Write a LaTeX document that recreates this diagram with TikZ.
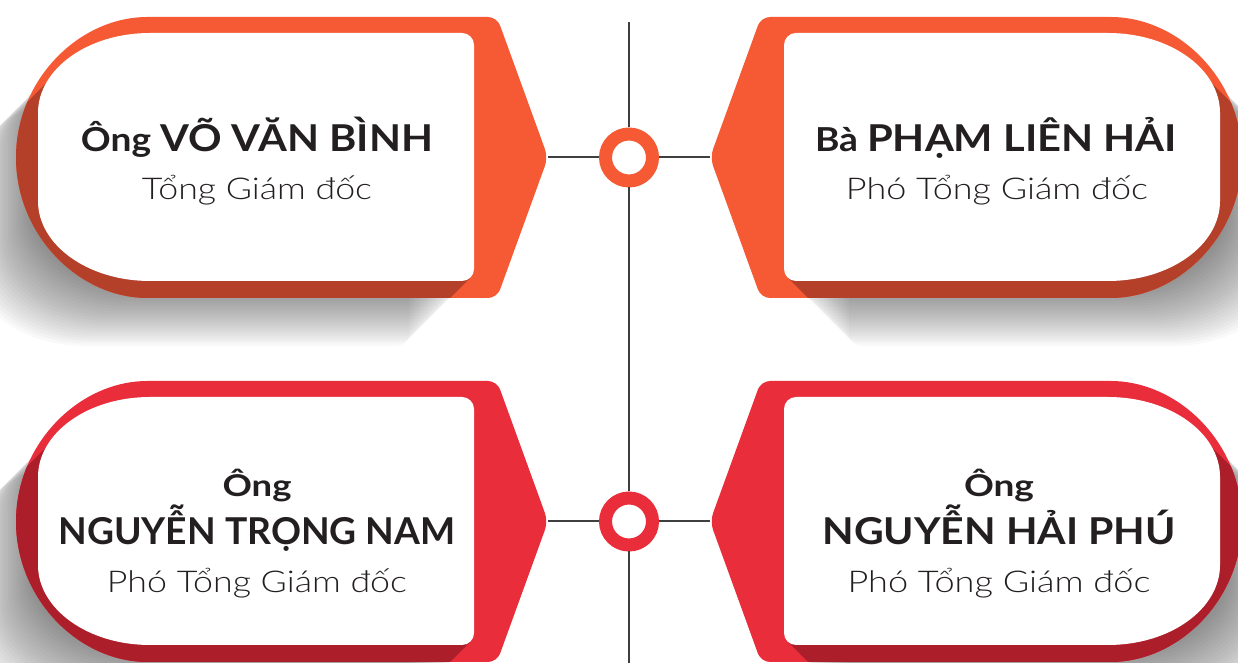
\documentclass[tikz,border=0pt]{standalone}
\usepackage{fontspec}
\usepackage{graphicx}
\setmainfont{Lato}
\newfontfamily\lightfont{Lato Light}
\definecolor{tagorange}{HTML}{F55A35}
\definecolor{tagorangedark}{HTML}{B4402A}
\definecolor{tagred}{HTML}{E92D3B}
\definecolor{tagreddark}{HTML}{AD1E2B}
\definecolor{inkdark}{HTML}{231F20}
\definecolor{linegrey}{HTML}{3F3F3F}

% outline of the coloured tag (left-hand version, tip pointing right)
\def\outerpath{(300,646) -- (497,646) -- (548,505.5) -- (497,365) -- (156.5,365)
  arc[start angle=270,end angle=90,radius=140.5] -- cycle}
% white label panel inside the tag
\def\innerpath{(150,630) -- (462,630) arc[start angle=90,end angle=0,radius=12]
  -- (474,394) arc[start angle=0,end angle=-90,radius=12] -- (150,382)
  arc[start angle=270,end angle=180,x radius=112,y radius=80] -- (38,550)
  arc[start angle=180,end angle=90,x radius=112,y radius=80] -- cycle}

% one tag: #1 main colour, #2 shaded colour
\newcommand\tagcard[2]{%
  \foreach \k in {1,...,26}{%
    \fill[black,opacity=0.024,shift={(-2.5*\k,-2.5*\k)}] \innerpath;}
  \fill[#1,rounded corners=9pt] \outerpath;
  \begin{scope}
    \clip[rounded corners=9pt] \outerpath;
    \fill[#2] (64,597.5) -- (470.5,385.5) -- (170.5,85.5) -- (-236,297.5) -- cycle;
  \end{scope}
  \fill[white] \innerpath;
}
\newcommand\fitwidth[2]{\resizebox{#1}{\height}{#2}}

\begin{document}
\begin{tikzpicture}[x=1pt,y=1pt,
  ring/.style={circle,fill=white,line width=13pt,minimum size=47pt,inner sep=0pt},
  link/.style={draw=linegrey,line width=2pt},
  nameline/.style={anchor=base,inner sep=0pt,text=inkdark,font=\bfseries},
  roleline/.style={anchor=base,inner sep=0pt,text=inkdark,font=\lightfont}]
\useasboundingbox (0,0) rectangle (1238,663);

% tags
\tagcard{tagorange}{tagorangedark}
\begin{scope}[xshift=1258pt,xscale=-1]
  \tagcard{tagorange}{tagorangedark}
\end{scope}
\begin{scope}[yshift=-364pt]
  \tagcard{tagred}{tagreddark}
\end{scope}
\begin{scope}[yshift=-364pt,xshift=1258pt,xscale=-1]
  \tagcard{tagred}{tagreddark}
\end{scope}

% timeline
\coordinate (tl) at (548,505.5);
\coordinate (tr) at (710,505.5);
\coordinate (bl) at (548,141.5);
\coordinate (br) at (710,141.5);
\coordinate (vtop) at (629,641);
\coordinate (vbot) at (629,0);
\node[ring,draw=tagorange] (c1) at (629,505.5) {};
\node[ring,draw=tagred] (c2) at (629,141.5) {};
\draw[link] (vtop) -- (c1.north);
\draw[link] (c1.south) -- (c2.north);
\draw[link] (c2.south) -- (vbot);
\draw[link] (tl) -- (c1.west);
\draw[link] (c1.east) -- (tr);
\draw[link] (bl) -- (c2.west);
\draw[link] (c2.east) -- (br);

% labels
\node[nameline] (n1) at (257,511) {\fitwidth{352pt}{\fontsize{33}{33}\selectfont Ông \fontsize{37}{37}\selectfont VÕ VĂN BÌNH}};
\node[roleline] (r1) at (257,463) {\fitwidth{230pt}{\fontsize{30}{30}\selectfont Tổng Giám đốc}};

\node[nameline] (n2) at (996,511) {\fitwidth{362pt}{\fontsize{33}{33}\selectfont Bà \fontsize{37}{37}\selectfont PHẠM LIÊN HẢI}};
\node[roleline] (r2) at (997,463) {\fitwidth{302pt}{\fontsize{30}{30}\selectfont Phó Tổng Giám đốc}};

\node[nameline] (h3) at (257,166) {\fitwidth{69pt}{\fontsize{30}{30}\selectfont Ông}};
\node[nameline] (n3) at (257,118) {\fitwidth{397pt}{\fontsize{37}{37}\selectfont NGUYỄN TRỌNG NAM}};
\node[roleline] (r3) at (257,70) {\fitwidth{300pt}{\fontsize{30}{30}\selectfont Phó Tổng Giám đốc}};

\node[nameline] (h4) at (999,166) {\fitwidth{70pt}{\fontsize{30}{30}\selectfont Ông}};
\node[nameline] (n4) at (999,118) {\fitwidth{353pt}{\fontsize{37}{37}\selectfont NGUYỄN HẢI PHÚ}};
\node[roleline] (r4) at (999,70) {\fitwidth{303pt}{\fontsize{30}{30}\selectfont Phó Tổng Giám đốc}};
\end{tikzpicture}
\end{document}
